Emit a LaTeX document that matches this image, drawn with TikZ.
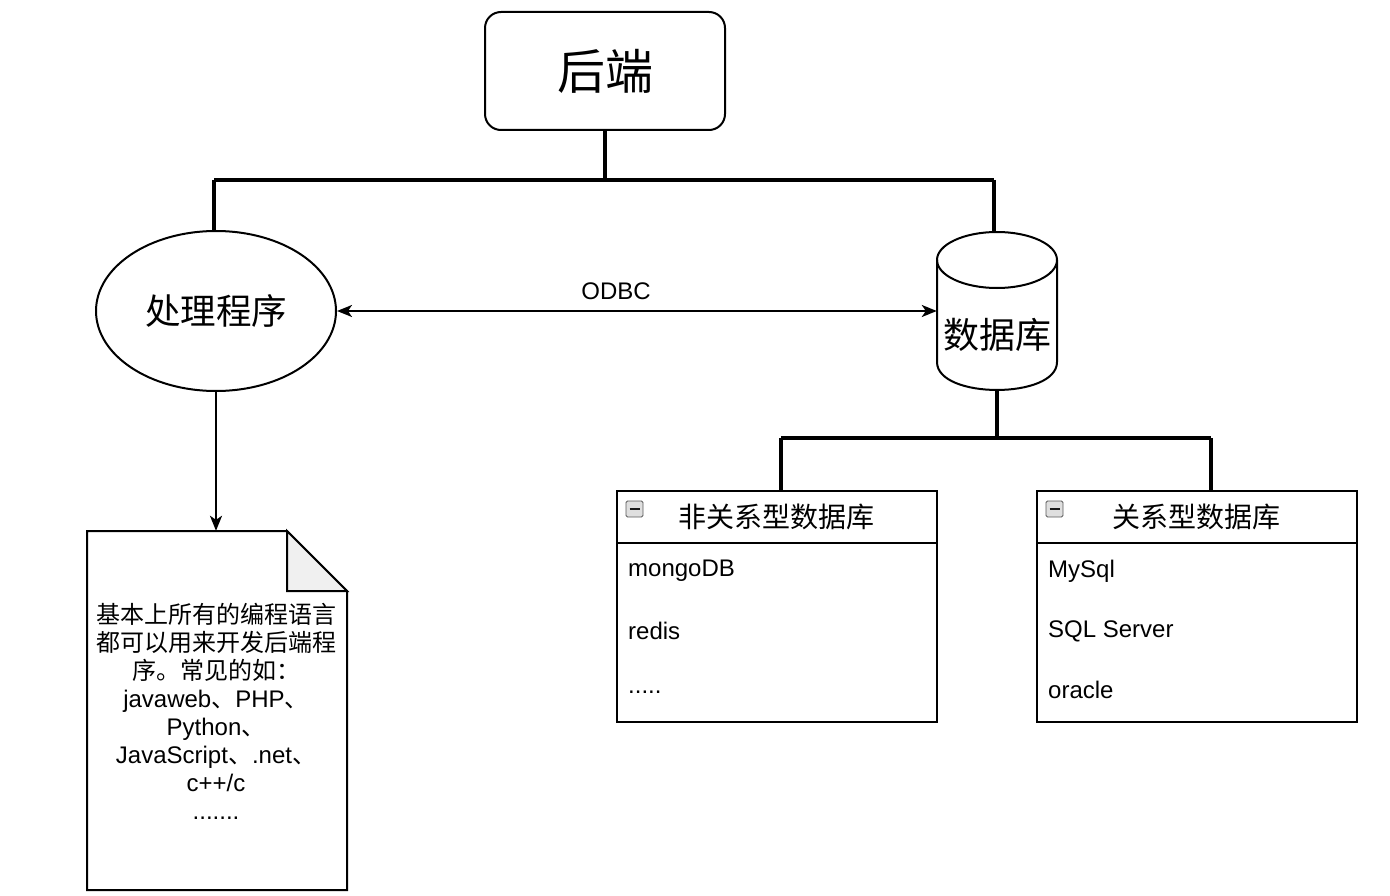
\documentclass[tikz,border=0pt]{standalone}
\usepackage{fontspec}
\setmainfont{Liberation Sans}
\newfontfamily\cjk{Noto Sans CJK SC}
\usetikzlibrary{shapes.geometric,arrows.meta}
\newcommand\zhtxt[1]{{\cjk #1}}
\tikzset{ctip/.tip={Stealth[length=15pt,width=12pt,inset=4pt]}}
\begin{document}
\begin{tikzpicture}[x=1pt,y=-1pt,line join=miter,
  shp/.style={draw=black,line width=2pt},
  bus/.style={draw=black,line width=3.2pt},
  conn/.style={draw=black,line width=2pt},
  item/.style={anchor=west,inner sep=0pt,font=\fontsize{24}{28}\selectfont},
  hdr/.style={font=\cjk\fontsize{28}{32}\selectfont},
  icon/.style={draw=gray!70!black,fill=gray!25,line width=0.9pt,rounded corners=1.5pt}]
\useasboundingbox (0,0) rectangle (1390,896);

% backend box
\node[shp,rounded corners=16pt,minimum width=240pt,minimum height=118pt,
      font=\cjk\fontsize{48}{54}\selectfont] (be) at (605,71) {后端};

% processing ellipse
\node[shp,ellipse,minimum width=240pt,minimum height=160pt,inner sep=0pt,
      font=\cjk\fontsize{35.5}{40}\selectfont] (proc) at (216,311) {处理程序};

% database cylinder
\node[minimum width=120pt,minimum height=158pt,inner sep=0pt] (db) at (997,311) {};
\draw[shp,fill=white] (937,260) -- (937,362) .. controls (937,399.3) and (1057,399.3) .. (1057,362) -- (1057,260);
\draw[shp] (997,260) ellipse[x radius=60,y radius=28];
\node[font=\cjk\fontsize{36}{40}\selectfont] (dbl) at (997,335) {数据库};

% document shape
\node[minimum width=260pt,minimum height=359pt,inner sep=0pt] (doc) at (217,710.5) {};
\draw[shp,fill=white] (87,531) -- (287,531) -- (347,591) -- (347,890) -- (87,890) -- cycle;
\draw[shp,fill=gray!12] (287,531) -- (287,591) -- (347,591) -- cycle;
\node[align=center,font=\fontsize{24}{28}\selectfont,inner sep=0pt] (doct) at (216,711) {%
\zhtxt{基本上所有的编程语言}\\
\zhtxt{都可以用来开发后端程}\\
\zhtxt{序。常见的如：}\\
javaweb\zhtxt{、}PHP\zhtxt{、}\\
Python\zhtxt{、}\\
JavaScript\zhtxt{、}.net\zhtxt{、}\\
c++/c\\
.......};

% tables
\node[shp,minimum width=320pt,minimum height=231pt,inner sep=0pt] (t1) at (777,606.5) {};
\draw[shp] (617,543) -- (937,543);
\draw[icon] (626,501) rectangle (643,517);
\draw[line width=2pt,gray!20!black] (629.5,509) -- (639.5,509);
\node[hdr] (t1h) at (776,517) {非关系型数据库};
\node[item] (t1a) at (628,571) {mongoDB};
\node[item] (t1b) at (628,631) {redis};
\node[item] (t1c) at (628,692) {.....};

\node[shp,minimum width=320pt,minimum height=231pt,inner sep=0pt] (t2) at (1197,606.5) {};
\draw[shp] (1037,543) -- (1357,543);
\draw[icon] (1046,501) rectangle (1063,517);
\draw[line width=2pt,gray!20!black] (1049.5,509) -- (1059.5,509);
\node[hdr] (t2h) at (1196,517) {关系型数据库};
\node[item] (t2a) at (1048,571) {MySql};
\node[item] (t2b) at (1048,631) {SQL Server};
\node[item] (t2c) at (1048,690) {oracle};

% connectors
\coordinate (j1) at (605,180);
\coordinate (j2) at (997,438);
\coordinate (p1) at (214,180);
\coordinate (p2) at (994,180);
\coordinate (q1) at (781,438);
\coordinate (q2) at (1211,438);
\draw[bus] (be.south) -- (j1);
\draw[bus] (p1) -- (p2);
\draw[bus] (p1) -- (proc.north -| p1);
\draw[bus] (p2) -- (db.north -| p2);
\draw[bus] (db.south) -- (j2);
\draw[bus] (q1) -- (q2);
\draw[bus] (q1) -- (t1.north -| q1);
\draw[bus] (q2) -- (t2.north -| q2);

\draw[conn,ctip-ctip] (proc.east) -- (db.west);
\node[font=\fontsize{24}{28}\selectfont] (odbc) at (616,291) {ODBC};
\draw[conn,-ctip] (proc.south) -- (proc.south |- doc.north);
\end{tikzpicture}
\end{document}
